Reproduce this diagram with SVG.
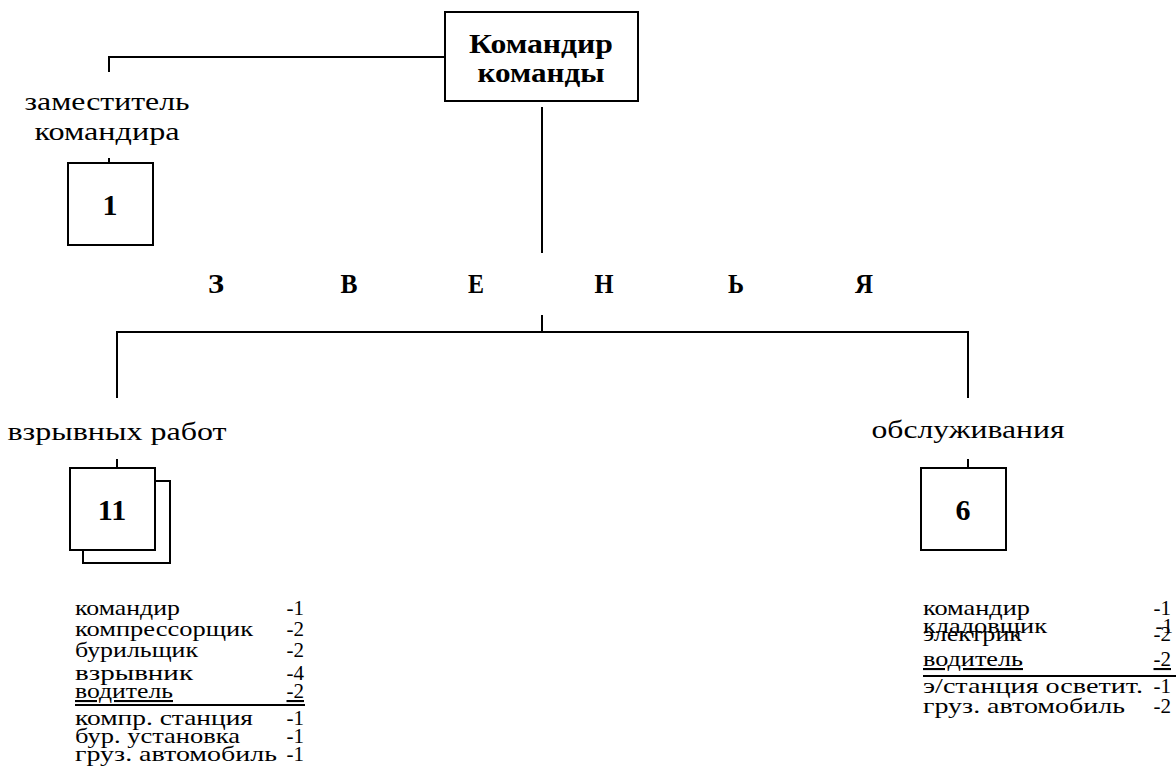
<svg xmlns="http://www.w3.org/2000/svg" width="1176" height="768" viewBox="0 0 1176 768">
<style>
.ln{stroke:#000;stroke-width:2;fill:none}
.box{stroke:#000;stroke-width:2;fill:#fff}
text{font-family:"Liberation Serif","DejaVu Serif","Times New Roman",serif;fill:#000}
.b{font-weight:bold;text-anchor:middle}
.lbl{text-anchor:middle;font-size:26px}
.li{font-size:21px}
.e{text-anchor:end}
</style>
<rect width="1176" height="768" fill="#fff"/>
<g id="connectors">
<path class="ln" d="M445,57 H109 V72"/>
<path class="ln" d="M109,158 V163"/>
<path class="ln" d="M542,107 V253"/>
<path class="ln" d="M542,315 V332"/>
<path class="ln" d="M117,398 V332 H968 V398"/>
<path class="ln" d="M117,459 V468"/>
<path class="ln" d="M968,459 V468"/>
</g>
<g id="commander">
<rect class="box" x="445" y="12" width="193" height="89"/>
<text class="b" x="541" y="53" font-size="28" textLength="144" lengthAdjust="spacingAndGlyphs">Командир</text>
<text class="b" x="541" y="82" font-size="28" textLength="127" lengthAdjust="spacingAndGlyphs">команды</text>
</g>
<g id="deputy">
<text class="lbl" x="107" y="110" textLength="165" lengthAdjust="spacingAndGlyphs">заместитель</text>
<text class="lbl" x="107" y="140" textLength="145" lengthAdjust="spacingAndGlyphs">командира</text>
<rect class="box" x="68" y="163" width="85" height="82"/>
<text class="b" x="110" y="215" font-size="30">1</text>
</g>
<g id="zvenya" class="b" font-size="28">
<text x="216" y="293" textLength="16" lengthAdjust="spacingAndGlyphs">З</text>
<text x="349" y="293" textLength="17" lengthAdjust="spacingAndGlyphs">В</text>
<text x="476" y="293" textLength="16" lengthAdjust="spacingAndGlyphs">Е</text>
<text x="604" y="293" textLength="19" lengthAdjust="spacingAndGlyphs">Н</text>
<text x="736" y="293" textLength="16" lengthAdjust="spacingAndGlyphs">Ь</text>
<text x="864" y="293" textLength="18" lengthAdjust="spacingAndGlyphs">Я</text>
</g>
<g id="blasting">
<text class="lbl" x="117" y="440" textLength="219" lengthAdjust="spacingAndGlyphs">взрывных работ</text>
<rect class="box" x="83" y="481" width="87" height="82"/>
<rect class="box" x="70" y="468" width="85" height="82"/>
<text class="b" x="112" y="520" font-size="30">11</text>
</g>
<g id="service">
<text class="lbl" x="968" y="438" textLength="193" lengthAdjust="spacingAndGlyphs">обслуживания</text>
<rect class="box" x="921" y="468" width="85" height="82"/>
<text class="b" x="963" y="520" font-size="30">6</text>
</g>
<g id="blasting-list" class="li">
<text x="75" y="615" textLength="105" lengthAdjust="spacingAndGlyphs">командир</text><text class="e" x="304" y="615">-1</text>
<text x="75" y="636" textLength="178" lengthAdjust="spacingAndGlyphs">компрессорщик</text><text class="e" x="304" y="636">-2</text>
<text x="75" y="657" textLength="123" lengthAdjust="spacingAndGlyphs">бурильщик</text><text class="e" x="304" y="657">-2</text>
<text x="75" y="680" textLength="118" lengthAdjust="spacingAndGlyphs">взрывник</text><text class="e" x="304" y="680">-4</text>
<text x="75" y="698" text-decoration="underline" textLength="98" lengthAdjust="spacingAndGlyphs">водитель</text><text class="e" x="304" y="698" text-decoration="underline">-2</text>
<path class="ln" d="M75,705 H305" stroke-width="2.5"/>
<text x="75" y="725" textLength="178" lengthAdjust="spacingAndGlyphs">компр. станция</text><text class="e" x="304" y="725">-1</text>
<text x="75" y="743" textLength="165" lengthAdjust="spacingAndGlyphs">бур. установка</text><text class="e" x="304" y="743">-1</text>
<text x="75" y="761" textLength="202" lengthAdjust="spacingAndGlyphs">груз. автомобиль</text><text class="e" x="304" y="761">-1</text>
</g>
<g id="service-list" class="li">
<text x="923" y="615" textLength="107" lengthAdjust="spacingAndGlyphs">командир</text><text class="e" x="1171" y="615">-1</text>
<text x="923" y="633" textLength="124" lengthAdjust="spacingAndGlyphs">кладовщик</text><text class="e" x="1173" y="633">-1</text>
<text x="923" y="641" textLength="99" lengthAdjust="spacingAndGlyphs">электрик</text><text class="e" x="1171" y="641">-2</text>
<text x="923" y="666" text-decoration="underline" textLength="100" lengthAdjust="spacingAndGlyphs">водитель</text><text class="e" x="1171" y="666" text-decoration="underline">-2</text>
<path class="ln" d="M923,676 H1176" stroke-width="2.5"/>
<text x="923" y="693" textLength="220" lengthAdjust="spacingAndGlyphs">э/станция осветит.</text><text class="e" x="1171" y="693">-1</text>
<text x="923" y="713" textLength="202" lengthAdjust="spacingAndGlyphs">груз. автомобиль</text><text class="e" x="1171" y="713">-2</text>
</g>
</svg>
